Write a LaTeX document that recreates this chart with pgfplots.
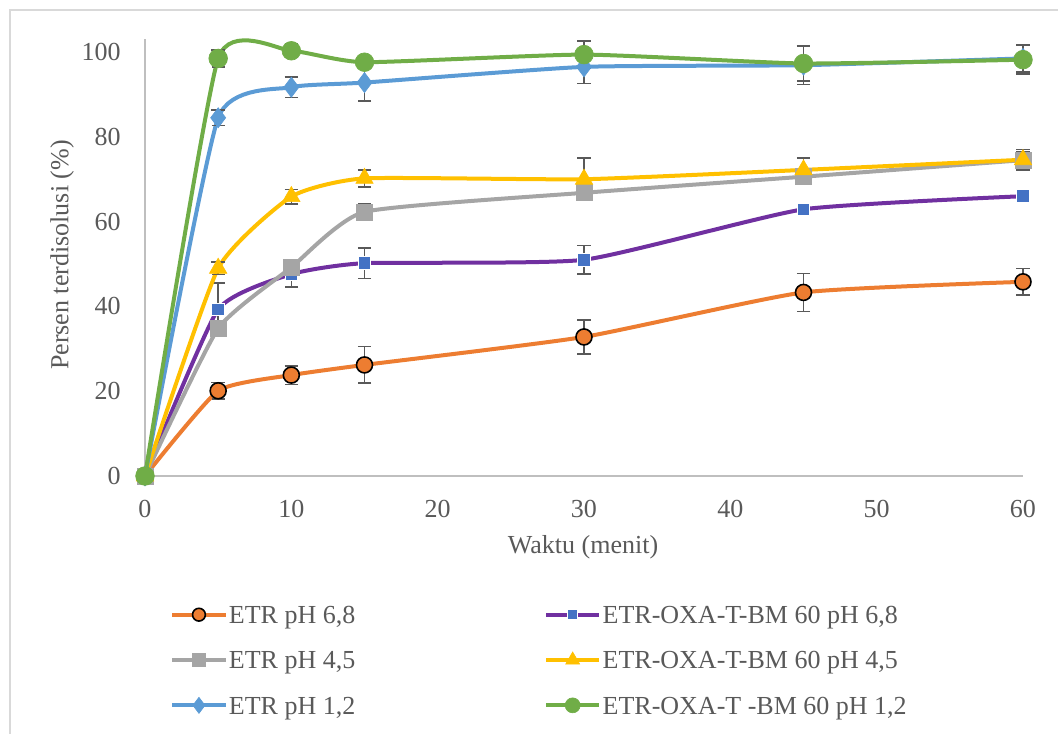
\documentclass[border=0pt]{standalone}
\usepackage{pgfplots}
\pgfplotsset{compat=1.18}
\usepackage{fontspec}
\setmainfont{Liberation Serif}
\definecolor{txt}{HTML}{595959}
\definecolor{axc}{HTML}{BFBFBF}
\definecolor{frm}{HTML}{D9D9D9}
\definecolor{errc}{HTML}{595959}
\definecolor{cOr}{HTML}{ED7D31}
\definecolor{cPu}{HTML}{7030A0}
\definecolor{cBs}{HTML}{4472C4}
\definecolor{cGr}{HTML}{A5A5A5}
\definecolor{cYe}{HTML}{FFC000}
\definecolor{cBl}{HTML}{5B9BD5}
\definecolor{cGn}{HTML}{70AD47}

\pgfplotstableread{
x y e
0 0 0
5 20.1 1.9
10 23.8 2.2
15 26.2 4.3
30 32.8 4.0
45 43.3 4.5
60 45.8 3.1
}\tOr
\pgfplotstableread{
x y e
0 0 0
5 39.3 6.2
10 47.6 3.0
15 50.2 3.6
30 51.0 3.4
45 62.9 0.3
60 66.0 0.3
}\tPu
\pgfplotstableread{
x y e
0 0 0
5 34.8 1.0
10 49.2 1.2
15 62.3 2.0
30 66.8 1.6
45 70.6 1.0
60 74.5 2.0
}\tGr
\pgfplotstableread{
x y e
0 0 0
5 49.0 1.5
10 65.9 1.7
15 70.2 2.0
30 70.0 5.0
45 72.2 2.8
60 74.6 2.4
}\tYe
\pgfplotstableread{
x y e
0 0 0
5 84.5 1.8
10 91.7 2.4
15 92.8 4.3
30 96.5 3.9
45 96.9 4.5
60 98.5 3.2
}\tBl
\pgfplotstableread{
x y e
0 0 0
5 98.5 2.0
10 100.3 1.6
15 97.6 0.3
30 99.4 3.2
45 97.3 4.1
60 98.2 3.4
}\tGn

\pgfplotsset{
  legend image code/.code={\draw[mark repeat=2,mark phase=2,#1] plot coordinates {(0pt,6.5pt) (20pt,6.5pt) (40pt,6.5pt)};},
  errst/.style={error bars/.cd, y dir=both, y explicit,
    error bar style={draw=errc, line width=1.1pt, solid},
    error mark options={draw=errc, line width=1.1pt, rotate=90, mark size=5pt}},
  ser/.style={line width=3pt, smooth, tension=0.3},
}

\begin{document}
\fontsize{19.5pt}{23pt}\selectfont
\begin{tikzpicture}
\useasboundingbox (0pt,0pt) rectangle (793.5pt,550.5pt);
\draw[frm, line width=1pt] (7.5pt,-8pt) -- (7.5pt,543pt) -- (802pt,543pt);
\begin{axis}[
  at={(108.75pt,193.5pt)}, anchor=south west,
  scale only axis, width=658.5pt, height=327.5pt,
  xmin=0, xmax=60, ymin=0, ymax=103,
  xtick={0,10,...,60}, ytick={0,20,...,100},
  axis x line=bottom, axis y line=left,
  axis line style={-, draw=axc, line width=1.2pt},
  major tick length=0pt,
  tick label style={text=txt, /pgf/number format/assume math mode=true},
  xticklabel style={inner sep=0pt, yshift=-18pt},
  yticklabel style={inner sep=0pt, xshift=-18pt},
  clip=false,
  xlabel={Waktu (menit)}, ylabel={Persen terdisolusi (\%)},
  label style={text=txt},
  xlabel style={at={(axis description cs:0.4989,-0.1626)}, anchor=center},
  ylabel style={at={(axis description cs:-0.0945,0.506)}, anchor=center},
  legend columns=2, legend cell align=left,
  legend style={at={(axis description cs:0.0285,-0.426)}, anchor=west,
    draw=none, fill=none, inner sep=0pt, text=txt,
    nodes={inner sep=0pt, text height=14pt, text depth=4pt, anchor=base west},
    row sep=16pt,
    /tikz/every even column/.append style={column sep=141.5pt},
    /tikz/every odd column/.append style={column sep=1pt}},
  legend image post style={/tikz/every mark/.append style={scale=0.8}},
]
\addplot[ser, color=cOr, mark=*, mark size=6pt, mark options={fill=cOr, draw=black, line width=1.2pt}, errst] table[x=x,y=y,y error=e] {\tOr};
\addlegendentry{ETR pH 6,8}
\addplot[ser, color=cPu, mark=square*, mark size=4.8pt, mark options={fill=cBs, draw=white, line width=0.6pt}, errst] table[x=x,y=y,y error=e] {\tPu};
\addlegendentry{ETR-OXA-T-BM 60 pH 6,8}
\addplot[ser, color=cGr, mark=square*, mark size=6pt, mark options={fill=cGr, draw=cGr, line width=0.5pt}, errst] table[x=x,y=y,y error=e] {\tGr};
\addlegendentry{ETR pH 4,5}
\addplot[ser, color=cYe, mark=triangle*, mark size=7.5pt, mark options={fill=cYe, draw=cYe, line width=0.5pt}, errst] table[x=x,y=y,y error=e] {\tYe};
\addlegendentry{ETR-OXA-T-BM 60 pH 4,5}
\addplot[ser, color=cBl, mark=diamond*, mark size=7.5pt, mark options={fill=cBl, draw=cBl, line width=0.5pt}, errst] table[x=x,y=y,y error=e] {\tBl};
\addlegendentry{ETR pH 1,2}
\addplot[ser, color=cGn, mark=*, mark size=7pt, mark options={fill=cGn, draw=cGn, line width=0.5pt}, errst] table[x=x,y=y,y error=e] {\tGn};
\addlegendentry{ETR-OXA-T -BM 60 pH 1,2}
\end{axis}
\end{tikzpicture}
\end{document}
